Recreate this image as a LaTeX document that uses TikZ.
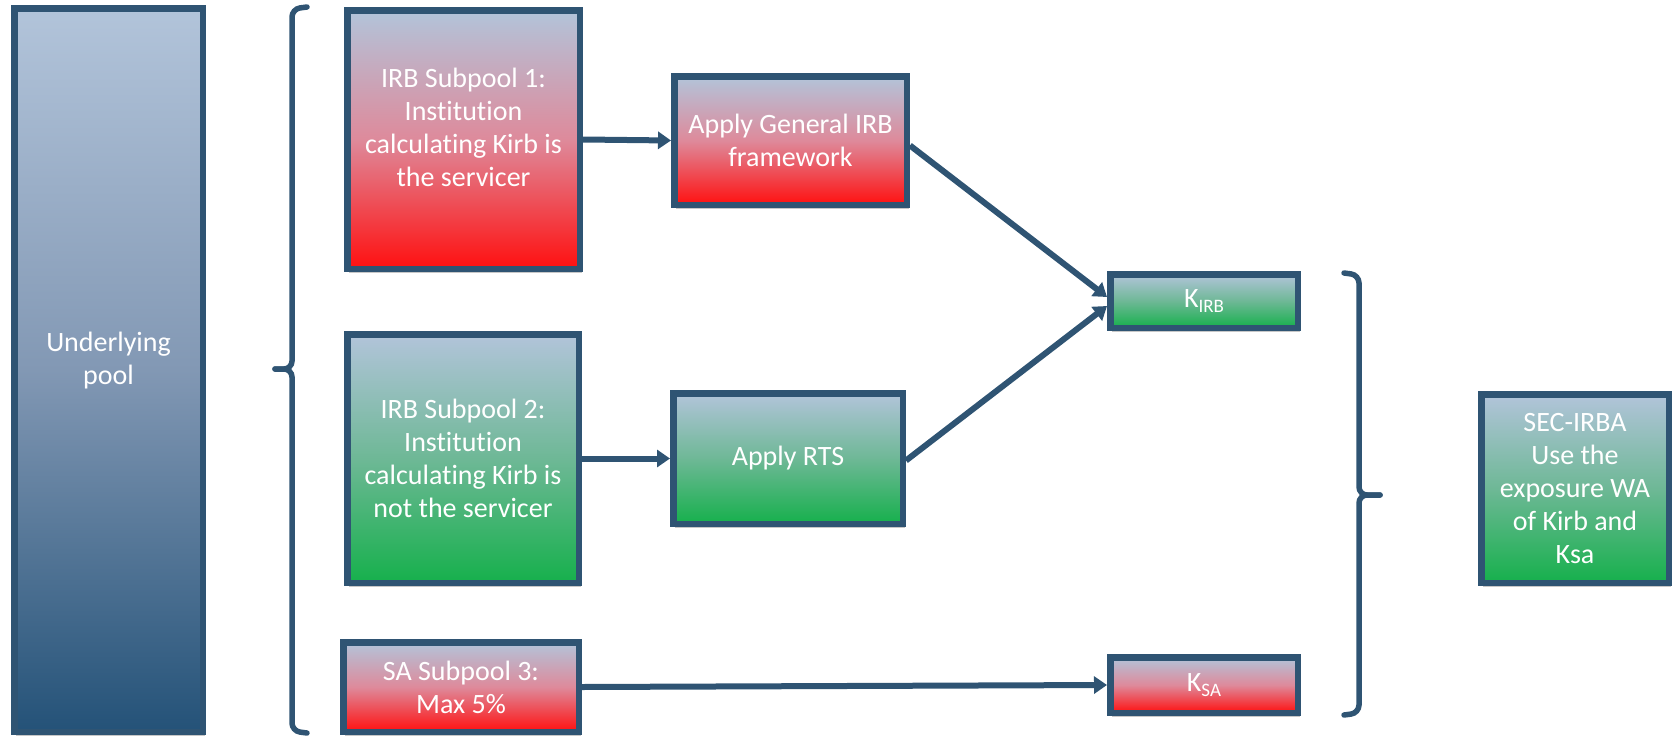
\documentclass[tikz,border=0pt]{standalone}
\usepackage{fontspec}
\setmainfont{Carlito}[Ligatures=NoCommon]
\usetikzlibrary{arrows.meta,calc,shadows}
\definecolor{bord}{RGB}{47,84,115}
\definecolor{topblue}{RGB}{178,196,218}
\definecolor{redbot}{RGB}{255,16,16}
\definecolor{redmid}{RGB}{222,138,155}
\definecolor{greenbot}{RGB}{22,176,76}
\definecolor{greenmid}{RGB}{110,184,150}
\definecolor{poolbot}{RGB}{36,82,120}
\definecolor{poolmid}{RGB}{130,152,180}
\begin{document}
\begin{tikzpicture}[x=1pt,y=-1pt,
  box/.style={draw=bord,line width=6.5pt,rectangle,inner sep=0pt,text=white,align=center,
    font=\fontsize{28}{33}\selectfont,
    drop shadow={shadow xshift=2pt,shadow yshift=-4pt,opacity=0.22,fill=black}},
  redg/.style={top color=topblue,bottom color=redbot,middle color=redmid},
  greeng/.style={top color=topblue,bottom color=greenbot,middle color=greenmid},
  poolg/.style={top color=topblue,bottom color=poolbot,middle color=poolmid},
  txt/.style={text=white,align=center,font=\fontsize{28}{33}\selectfont},
  arr/.style={draw=bord,line width=6pt,-{Triangle[length=13pt,width=17pt]}},
  brk/.style={draw=bord,line width=5.5pt,rounded corners=8pt,line cap=round}
]
\useasboundingbox (0,0) rectangle (1675,736);

\node[box,poolg,minimum width=188.5pt,minimum height=723.5pt] (pool) at (108.5,370) {};
\node[txt] (poolt) at (108.5,361) {Underlying\\pool};

\node[box,redg,minimum width=232.5pt,minimum height=258.5pt] (sp1) at (463.5,139.5) {};
\node[txt] (sp1t) at (463.5,127) {IRB Subpool 1:\\Institution\\calculating Kirb is\\the servicer};

\node[box,redg,minimum width=232.5pt,minimum height=128.5pt] (agi) at (790.5,140.5) {Apply General IRB\\framework};

\node[box,greeng,minimum width=231.5pt,minimum height=248.5pt] (sp2) at (463,458.5) {IRB Subpool 2:\\Institution\\calculating Kirb is\\not the servicer};

\node[box,greeng,minimum width=229.5pt,minimum height=130.5pt] (rts) at (788,458.5) {Apply RTS};

\node[box,redg,minimum width=235.5pt,minimum height=89.5pt] (sp3) at (461,687) {SA Subpool 3:\\Max 5\%};

\node[box,greeng,minimum width=187.5pt,minimum height=53.5pt] (kirb) at (1204,301) {K\raisebox{-0.35ex}{\fontsize{19}{19}\selectfont IRB}};

\node[box,redg,minimum width=187.5pt,minimum height=55.5pt] (ksa) at (1204,685) {K\raisebox{-0.35ex}{\fontsize{19}{19}\selectfont SA}};

\node[box,greeng,minimum width=187.5pt,minimum height=188.5pt] (sec) at (1575,488.5) {SEC-IRBA\\Use the\\exposure WA\\of Kirb and\\Ksa};

% connectors
\draw[arr] (sp1.east) -- (agi.west);
\draw[arr] (sp2.east) -- (rts.west);
\draw[arr] ($(agi.east)+(0,5)$) -- ($(kirb.west)+(0,-4)$);
\draw[arr] ($(rts.east)+(0,2)$) -- ($(kirb.west)+(0,5)$);
\draw[arr] (sp3.east) -- (ksa.west);

% left bracket
\draw[brk] (307,7) -- (292,9) -- (292,369) -- (275,369);
\draw[brk] (275,369) -- (292,369) -- (292,731) -- (307,733);
% right bracket
\draw[brk] (1344,273) -- (1359,275) -- (1359,495) -- (1380,495);
\draw[brk] (1380,495) -- (1359,495) -- (1359,713) -- (1344,715);
\end{tikzpicture}
\end{document}
